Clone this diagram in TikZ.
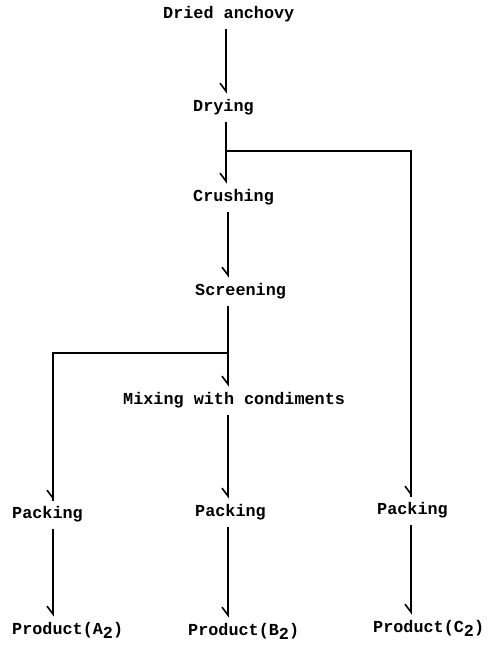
\documentclass[tikz,border=0pt]{standalone}
\usepackage{fontspec}
\setmonofont{Liberation Mono}
\usetikzlibrary{arrows.meta}
\tikzset{
  lbl/.style={anchor=west, inner xsep=0pt, inner ysep=7pt, text height=11pt, text depth=3.5pt,
    font=\fontsize{16.8}{18}\selectfont\ttfamily\bfseries},
  flow/.style={line width=1.6pt, -{Straight Barb[right,length=8pt,width=12pt,line width=1.6pt]}},
  link/.style={line width=1.6pt}
}
\newcommand{\subtwo}{\raisebox{-0.45ex}{2}}
\begin{document}
\begin{tikzpicture}[x=1pt,y=-1pt]
\useasboundingbox (0,0) rectangle (491,648);
% labels
\node[lbl] (dried) at (163,15) {Dried anchovy};
\node[lbl] (drying) at (193,108) {Drying};
\node[lbl] (crush) at (193,198) {Crushing};
\node[lbl] (screen) at (195,292) {Screening};
\node[lbl] (mix) at (123,401) {Mixing with condiments};
\node[lbl] (packA) at (12,515) {Packing};
\node[lbl] (packB) at (195,513) {Packing};
\node[lbl] (packC) at (377,511) {Packing};
\node[lbl] (prodA) at (12,631) {Product(A\subtwo)};
\node[lbl] (prodB) at (188,632) {Product(B\subtwo)};
\node[lbl] (prodC) at (373,629) {Product(C\subtwo)};
% guide coordinates
\coordinate (ux) at (226,0);
\coordinate (cx) at (228,0);
\coordinate (lx) at (53,0);
\coordinate (rx) at (411,0);
\coordinate (br1) at (226,151);
\coordinate (br2) at (228,353);
% connectors
\draw[flow] (dried.south -| ux) -- (drying.north -| ux);
\draw[flow] (drying.south -| ux) -- (crush.north -| ux);
\draw[link] (br1) -| (packC.north -| rx);
\draw[flow] (br1 -| rx) -- (packC.north -| rx);
\draw[flow] (crush.south -| cx) -- (screen.north -| cx);
\draw[flow] (screen.south -| cx) -- (mix.north -| cx);
\draw[link] (br2) -| (packA.north -| lx);
\draw[flow] (br2 -| lx) -- (packA.north -| lx);
\draw[flow] (mix.south -| cx) -- (packB.north -| cx);
\draw[flow] (packA.south -| lx) -- (prodA.north -| lx);
\draw[flow] (packB.south -| cx) -- (prodB.north -| cx);
\draw[flow] (packC.south -| rx) -- (prodC.north -| rx);
\end{tikzpicture}
\end{document}
